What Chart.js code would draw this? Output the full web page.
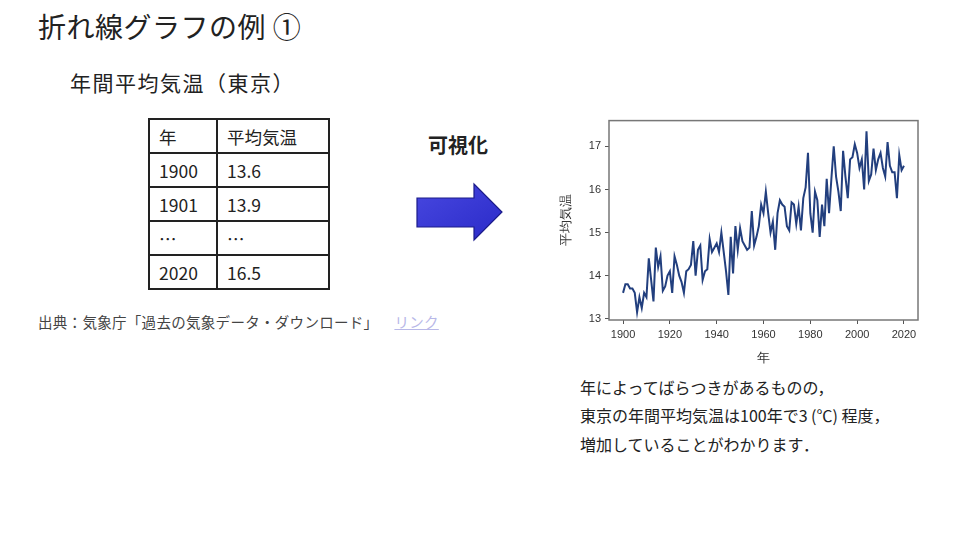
<!DOCTYPE html>
<html lang="ja">
<head>
<meta charset="utf-8">
<script src="https://cdn.jsdelivr.net/npm/chart.js@4"></script>
<style>
  html, body { margin:0; padding:0; background:#fff; }
  body { width:969px; height:552px; position:relative; overflow:hidden;
         font-family:"Noto Sans CJK JP","Noto Sans",sans-serif; color:#222; }
  .abs { position:absolute; white-space:nowrap; }
  #title { left:38px; top:6px; font-size:28px; letter-spacing:0.5px; }
  #sub { left:70px; top:67px; font-size:21px; letter-spacing:1.5px; }
  table { position:absolute; left:148px; top:118px; border-collapse:collapse; font-size:17.5px; }
  td { border:2px solid #222; height:32px; padding:0 9px; }
  td.c1 { width:48px; }
  td.c2 { width:92px; }
  #vis { left:428px; top:130px; font-size:20px; font-weight:bold; }
  #src { left:38px; top:311px; font-size:14.5px; color:#444; letter-spacing:0.3px; }
  #src span { color:#b8b8e8; text-decoration:underline; margin-left:16px; }
  #note { left:580px; top:373px; font-size:16px; line-height:28.3px; }
  #wrap { position:absolute; left:550px; top:110px; width:380px; height:270px; }
</style>
</head>
<body>
<div id="title" class="abs">折れ線グラフの例 ①</div>
<div id="sub" class="abs">年間平均気温（東京）</div>
<table>
  <tr><td class="c1">年</td><td class="c2">平均気温</td></tr>
  <tr><td>1900</td><td>13.6</td></tr>
  <tr><td>1901</td><td>13.9</td></tr>
  <tr><td>…</td><td>…</td></tr>
  <tr><td>2020</td><td>16.5</td></tr>
</table>
<div id="vis" class="abs">可視化</div>
<svg class="abs" style="left:410px;top:176px" width="100" height="72">
  <defs>
    <linearGradient id="g" x1="0" y1="0" x2="1" y2="1">
      <stop offset="0" stop-color="#4848e0"/>
      <stop offset="1" stop-color="#2a2ac8"/>
    </linearGradient>
  </defs>
  <polygon points="7,22 64,22 64,8 92,36 64,64 64,51 7,51" fill="url(#g)" stroke="#1c1c8a" stroke-width="1.2"/>
</svg>
<div id="src" class="abs">出典：気象庁「過去の気象データ・ダウンロード」<span>リンク</span></div>
<div id="note" class="abs">年によってばらつきがあるものの，<br>東京の年間平均気温は100年で3 (℃) 程度，<br>増加していることがわかります．</div>
<div id="wrap"><canvas id="c"></canvas></div>
<script>
const startYear = 1900;
const temps = [
  13.6, 13.8, 13.8, 13.7, 13.7, 13.6, 13.15, 13.5, 13.25, 13.6,
  13.5, 14.4, 13.9, 13.4, 14.65, 14.2, 14.45, 13.65, 13.75, 14.0,
  14.1, 13.6, 14.45, 14.25, 14.0, 13.85, 13.6, 14.1, 14.15, 14.25,
  14.8, 14.0, 14.6, 14.7, 13.9, 14.1, 14.15, 14.85, 14.55, 14.65,
  14.75, 14.55, 15.0, 14.55, 14.1, 13.55, 14.9, 14.05, 15.15, 14.6,
  15.1, 14.8, 14.7, 14.6, 14.65, 15.5, 14.7, 14.9, 15.15, 15.65,
  15.45, 15.95, 15.45, 15.0, 15.25, 14.6, 15.45, 15.75, 15.65, 15.6,
  15.15, 15.05, 15.7, 15.65, 15.2, 15.6, 15.05, 15.8, 16.05, 16.85,
  15.45, 15.0, 15.95, 15.75, 14.9, 15.65, 15.15, 16.25, 15.45, 16.25,
  17.0, 16.3, 15.95, 15.5, 16.9, 16.3, 15.8, 16.7, 16.75, 17.05,
  16.85, 16.5, 16.7, 16.0, 17.35, 16.2, 16.35, 16.95, 16.45, 16.7,
  16.85, 16.5, 16.3, 17.1, 16.55, 16.4, 16.4, 15.8, 16.8, 16.45,
  16.55
];
const years = temps.map((_, i) => startYear + i);
const xTicks = [1900, 1920, 1940, 1960, 1980, 2000, 2020];
const yTicks = [13, 14, 15, 16, 17];

const frame = {
  id: 'frame',
  afterDraw(chart){
    const a = chart.chartArea, ctx = chart.ctx;
    ctx.save();
    ctx.strokeStyle = '#777';
    ctx.lineWidth = 1.5;
    ctx.strokeRect(a.left, a.top, a.right - a.left, a.bottom - a.top);
    ctx.restore();
  }
};

new Chart(document.getElementById('c'), {
  type: 'line',
  data: { datasets: [{
    data: years.map((y, i) => ({ x: y, y: temps[i] })),
    borderColor: '#223f7e', borderWidth: 2, pointRadius: 0, tension: 0, fill: false
  }]},
  options: {
    responsive: true, maintainAspectRatio: false, animation: false,
    layout: { padding: { left: 5, right: 12, top: 9, bottom: 10 } },
    plugins: { legend: { display: false }, tooltip: { enabled: false } },
    scales: {
      x: {
        type: 'linear', min: 1894, max: 2026,
        afterBuildTicks: s => { s.ticks = xTicks.map(v => ({ value: v })); },
        afterFit: s => { s.height = 50; },
        grid: { drawOnChartArea: false, tickLength: 4, color: '#555' },
        border: { display: false },
        ticks: { color: '#333', font: { size: 11 }, padding: 4, maxRotation: 0, callback: v => String(v) },
        title: { display: true, text: '年', color: '#333', font: { size: 13 } }
      },
      y: {
        min: 12.97, max: 17.6,
        afterBuildTicks: s => { s.ticks = yTicks.map(v => ({ value: v })); },
        afterFit: s => { s.width = 54; },
        grid: { drawOnChartArea: false, tickLength: 4, color: '#555' },
        border: { display: false },
        ticks: { color: '#333', font: { size: 11 }, padding: 4, callback: v => String(v) },
        title: { display: true, text: '平均気温', color: '#333', font: { size: 13 } }
      }
    }
  },
  plugins: [frame]
});
</script>
</body>
</html>
